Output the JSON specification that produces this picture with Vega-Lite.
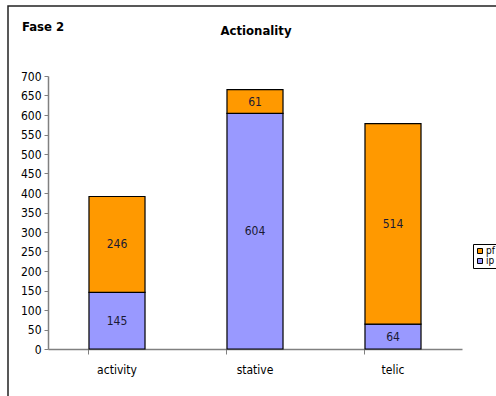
{
  "$schema": "https://vega.github.io/schema/vega-lite/v6.json",
  "width": 414,
  "height": 273,
  "autosize": "none",
  "padding": {"left": 48, "top": 76, "right": 34, "bottom": 47},
  "background": "white",
  "config": {
    "font": "DejaVu Sans Condensed",
    "view": {"stroke": null},
    "axis": {"labelFont": "DejaVu Sans Condensed", "labelColor": "#000000", "domainColor": "#808080", "tickColor": "#808080", "grid": false, "title": null}
  },
  "datasets": {
    "counts": [
      {"category": "activity", "aspect": "ip", "value": 145},
      {"category": "activity", "aspect": "pf", "value": 246},
      {"category": "stative", "aspect": "ip", "value": 604},
      {"category": "stative", "aspect": "pf", "value": 61},
      {"category": "telic", "aspect": "ip", "value": 64},
      {"category": "telic", "aspect": "pf", "value": 514}
    ],
    "heading": [{"phase": "Fase 2", "title": "Actionality"}]
  },
  "layer": [
    {
      "data": {"name": "heading"},
      "mark": {"type": "rect", "fill": null, "stroke": "#222222", "strokeWidth": 1.5},
      "encoding": {
        "x": {"value": -40},
        "x2": {"value": 700},
        "y": {"value": -70},
        "y2": {"value": 600}
      }
    },
    {
      "data": {"name": "heading"},
      "mark": {"type": "text", "fontWeight": "bold", "fontSize": 13, "align": "left", "baseline": "middle", "color": "#000000"},
      "encoding": {
        "x": {"value": -26},
        "y": {"value": -49},
        "text": {"field": "phase"}
      }
    },
    {
      "data": {"name": "heading"},
      "mark": {"type": "text", "fontWeight": "bold", "fontSize": 13, "align": "center", "baseline": "middle", "color": "#000000"},
      "encoding": {
        "x": {"value": 208},
        "y": {"value": -45},
        "text": {"field": "title"}
      }
    },
    {
      "data": {"name": "counts"},
      "transform": [
        {"calculate": "datum.aspect === 'ip' ? 0 : 1", "as": "order"},
        {"stack": "value", "groupby": ["category"], "sort": [{"field": "order", "order": "ascending"}], "as": ["v0", "v1"]},
        {"calculate": "(datum.v0 + datum.v1) / 2", "as": "vmid"}
      ],
      "encoding": {
        "x": {
          "field": "category",
          "type": "nominal",
          "scale": {"paddingInner": 0.594, "paddingOuter": 0.297},
          "axis": {"labelAngle": 0, "labelFontSize": 12, "labelPadding": 10, "tickSize": 5, "bandPosition": 0, "domainWidth": 1.5}
        }
      },
      "layer": [
        {
          "mark": {"type": "bar", "stroke": "#000000", "strokeWidth": 1.2},
          "encoding": {
            "y": {
              "field": "v0",
              "type": "quantitative",
              "scale": {"domain": [0, 700], "nice": false},
              "axis": {"values": [0, 50, 100, 150, 200, 250, 300, 350, 400, 450, 500, 550, 600, 650, 700], "labelFontSize": 12, "tickSize": 4, "labelPadding": 3, "domainWidth": 1.5}
            },
            "y2": {"field": "v1"},
            "color": {
              "field": "aspect",
              "type": "nominal",
              "scale": {"domain": ["pf", "ip"], "range": ["#FF9900", "#9999FF"]},
              "legend": {
                "title": null,
                "orient": "none",
                "legendX": 425,
                "legendY": 168,
                "symbolType": "square",
                "symbolSize": 25,
                "symbolStrokeColor": "#000000",
                "symbolStrokeWidth": 1,
                "labelFontSize": 10,
                "labelFont": "DejaVu Sans Condensed",
                "labelColor": "#000000",
                "strokeColor": "#000000",
                "padding": 2,
                "rowPadding": 0,
                "labelOffset": 1
              }
            }
          }
        },
        {
          "mark": {"type": "text", "fontSize": 12, "color": "#1a1a33", "baseline": "middle"},
          "encoding": {
            "y": {
              "field": "vmid",
              "type": "quantitative",
              "axis": {"values": [0, 50, 100, 150, 200, 250, 300, 350, 400, 450, 500, 550, 600, 650, 700], "labelFontSize": 12, "tickSize": 4, "labelPadding": 3, "domainWidth": 1.5}
            },
            "text": {"field": "value", "type": "quantitative"}
          }
        }
      ]
    }
  ]
}
